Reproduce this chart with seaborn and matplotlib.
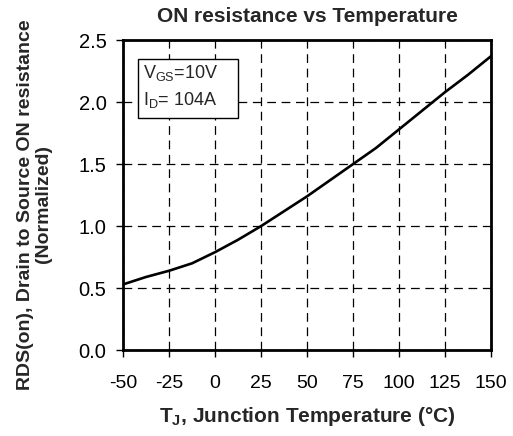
import matplotlib
matplotlib.use("Agg")
import matplotlib.pyplot as plt
from matplotlib.patches import Rectangle
import seaborn as sns
import pandas as pd

temperature = [-50, -37.5, -25, -12.5, 0, 12.5, 25, 37.5, 50, 62.5, 75, 87.5, 100, 112.5, 125, 137.5, 150]
rds_norm = [0.53, 0.59, 0.64, 0.70, 0.79, 0.89, 1.00, 1.12, 1.24, 1.37, 1.50, 1.63, 1.78, 1.93, 2.08, 2.22, 2.37]
x_ticks = [-50, -25, 0, 25, 50, 75, 100, 125, 150]
y_ticks = [0.0, 0.5, 1.0, 1.5, 2.0, 2.5]

sns.set_theme(style="white")
plt.rcParams['font.family'] = ['Liberation Sans', 'DejaVu Sans']
plt.rcParams['mathtext.fontset'] = 'custom'
plt.rcParams['mathtext.rm'] = 'Liberation Sans'
plt.rcParams['mathtext.bf'] = 'Liberation Sans:bold'

df = pd.DataFrame({"T": temperature, "R": rds_norm})

fig = plt.figure(figsize=(5.13, 4.36), dpi=100)
ax = fig.add_axes([0.240, 0.197, 0.717, 0.711])

sns.lineplot(data=df, x="T", y="R", ax=ax, color="black", linewidth=1.9, zorder=3)

ax.set_xlim(-50, 150)
ax.set_ylim(0, 2.5)
ax.set_xticks(x_ticks)
ax.set_yticks(y_ticks)
ax.set_xticklabels([str(t) for t in x_ticks], fontsize=14)
ax.set_yticklabels([f"{v:.1f}" for v in y_ticks], fontsize=14.5)
ax.tick_params(axis="both", direction="out", length=5, width=1, color="black", labelcolor="black",
               bottom=True, left=True)
ax.tick_params(axis="x", pad=13)
ax.tick_params(axis="y", pad=7)
ax.grid(True, color="black", linestyle=(0, (7, 4.5)), linewidth=0.9)
for s in ax.spines.values():
    s.set_color("black")
    s.set_linewidth(2)
    s.set_zorder(4)

ax.set_xlabel(r"T$_\mathbf{J}$, Junction Temperature (°C)", fontsize=15, fontweight="bold", labelpad=9)
ax.set_ylabel("RDS(on), Drain to Source ON resistance\n(Normalized)", fontsize=14, fontweight="bold",
              linespacing=1.05)
ax.yaxis.set_label_coords(-0.193, 0.47)
ax.set_title("ON resistance vs Temperature", fontsize=15, fontweight="bold", pad=13)

ax.add_patch(Rectangle((0.041, 0.748), 0.272, 0.191, transform=ax.transAxes, facecolor="white",
                       edgecolor="black", linewidth=1, zorder=5))
ax.text(0.054, 0.877, "V$_\\mathregular{GS}$=10V", transform=ax.transAxes, fontsize=13,
        va="baseline", ha="left", zorder=6)
ax.text(0.054, 0.790, "I$_\\mathregular{D}$= 104A", transform=ax.transAxes, fontsize=13,
        va="baseline", ha="left", zorder=6)

fig.savefig("out.png", dpi=100)
